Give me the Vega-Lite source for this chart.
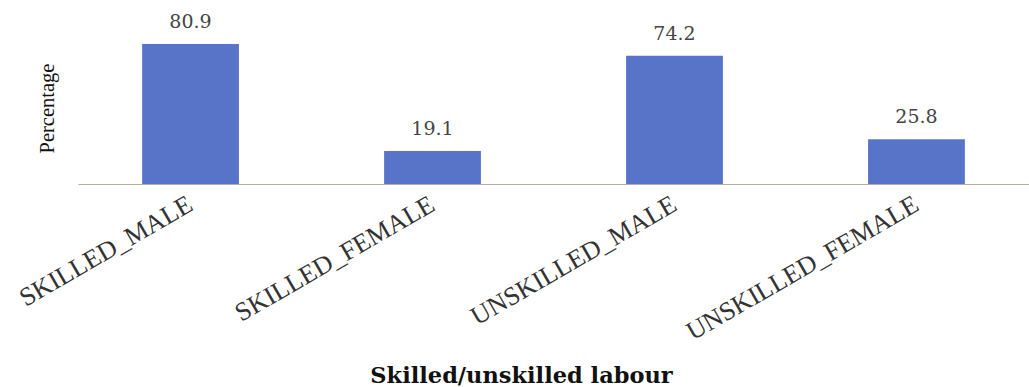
{
  "$schema": "https://vega.github.io/schema/vega-lite/v6.json",
  "autosize": "none",
  "width": 951,
  "height": 173,
  "padding": {"left": 78, "top": 11, "right": 0, "bottom": 203},
  "background": "white",
  "config": {"view": {"stroke": null}},
  "data": {
    "values": [
      {"category": "SKILLED_MALE", "pct": 80.9},
      {"category": "SKILLED_FEMALE", "pct": 19.1},
      {"category": "UNSKILLED_MALE", "pct": 74.2},
      {"category": "UNSKILLED_FEMALE", "pct": 25.8}
    ]
  },
  "encoding": {
    "x": {
      "field": "category",
      "type": "nominal",
      "sort": null,
      "scale": {"paddingInner": 0.6, "paddingOuter": 0.265},
      "axis": {
        "title": "Skilled/unskilled labour",
        "labelAngle": -30,
        "labelAlign": "right",
        "labelBaseline": "middle",
        "labelPadding": 18,
        "labelLimit": 0,
        "ticks": false,
        "grid": false,
        "domainColor": "#b5ad9a",
        "domainWidth": 1,
        "labelFont": "Liberation Serif",
        "labelFontSize": 26,
        "labelColor": "#333333",
        "titleFont": "DejaVu Serif",
        "titleFontWeight": "bold",
        "titleFontSize": 22.5,
        "titleColor": "#111111",
        "titleX": 443,
        "titleY": 180,
        "titleBaseline": "top"
      }
    },
    "y": {
      "field": "pct",
      "type": "quantitative",
      "scale": {"domain": [0, 100]},
      "axis": {
        "title": "Percentage",
        "labels": false,
        "ticks": false,
        "domain": false,
        "grid": false,
        "titlePadding": 21,
        "titleY": 97,
        "titleFont": "Liberation Serif",
        "titleFontSize": 20.5,
        "titleFontWeight": "normal",
        "titleColor": "#111111"
      }
    }
  },
  "layer": [
    {"mark": {"type": "bar", "color": "#5874C8"}},
    {
      "mark": {
        "type": "text",
        "baseline": "alphabetic",
        "dy": -16,
        "font": "DejaVu Serif",
        "fontSize": 19,
        "color": "#444444"
      },
      "encoding": {"text": {"field": "pct", "type": "quantitative", "format": ".1f"}}
    }
  ]
}
